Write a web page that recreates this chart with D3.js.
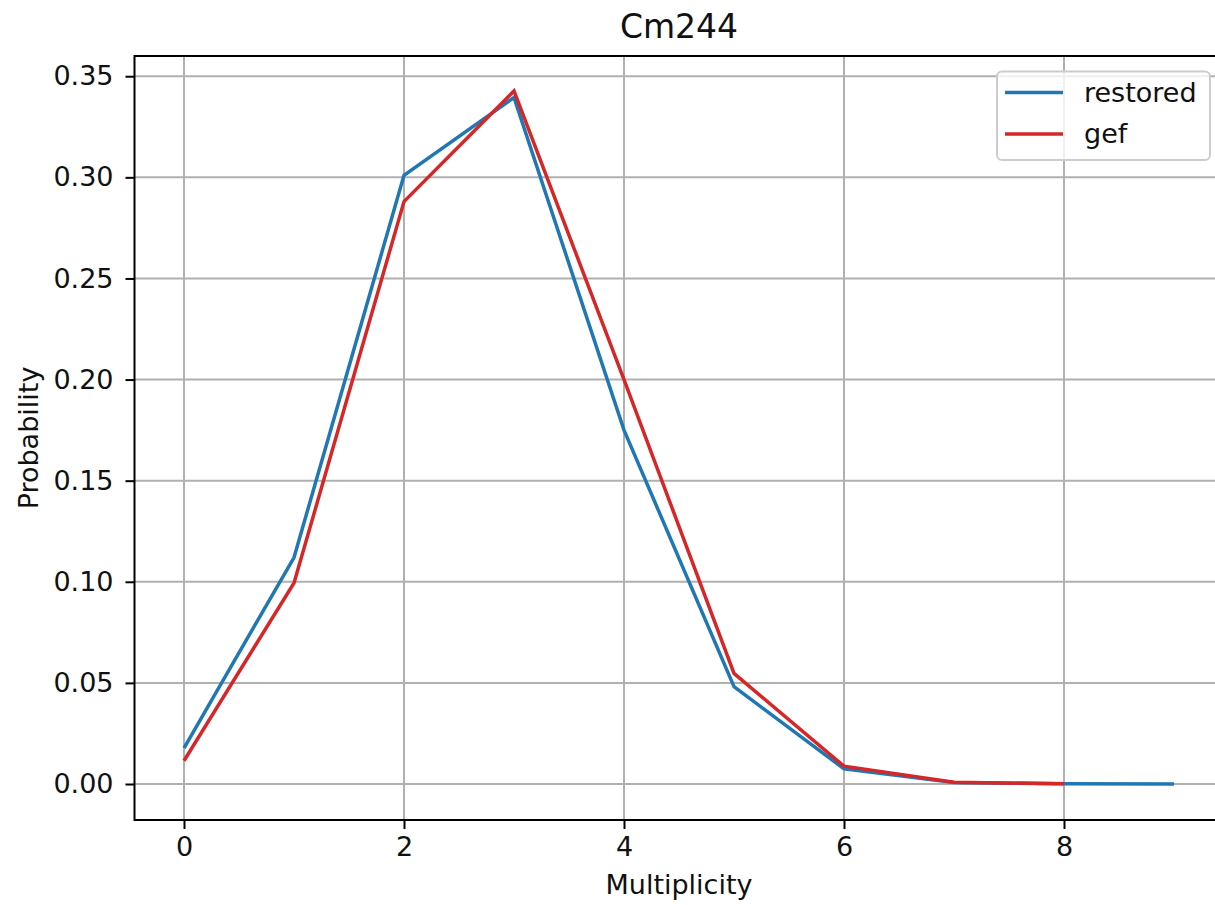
<!DOCTYPE html>
<html>
<head>
<meta charset="utf-8">
<script src="https://cdn.jsdelivr.net/npm/d3@7"></script>
<style>
  body { margin: 0; background: #fff; }
  svg { display: block; font-family: "DejaVu Sans", sans-serif; }
</style>
</head>
<body>
<svg id="chart" width="1215" height="905"></svg>
<script>
const multiplicity = [0, 1, 2, 3, 4, 5, 6, 7, 8, 9];
const restored = [0.0178, 0.112, 0.301, 0.3395, 0.175, 0.0481, 0.0075, 0.0008, 0.0001, 0.0];
const gef = [0.0115, 0.0994, 0.288, 0.3427, 0.200, 0.0547, 0.0088, 0.0009, 0.0001];
const xTicks = [0, 2, 4, 6, 8];
const yTicks = [0.00, 0.05, 0.10, 0.15, 0.20, 0.25, 0.30, 0.35];

const margin = {left: 134.5, right: -8.5, top: 56, bottom: 85};
const width = 1215, height = 905;

const svg = d3.select('#chart');

const xScale = d3.scaleLinear()
    .domain([-0.45, 9.45])
    .range([margin.left, width - margin.right]);

const yScale = d3.scaleLinear()
    .domain([-0.0178, 0.360])
    .range([height - margin.bottom, margin.top]);

// grid
svg.append('g')
    .selectAll('line')
    .data(xTicks)
    .join('line')
        .attr('x1', d => xScale(d))
        .attr('x2', d => xScale(d))
        .attr('y1', margin.top)
        .attr('y2', height - margin.bottom)
        .style('stroke', '#b0b0b0')
        .style('stroke-width', 2);

svg.append('g')
    .selectAll('line')
    .data(yTicks)
    .join('line')
        .attr('x1', margin.left)
        .attr('x2', width - margin.right)
        .attr('y1', d => yScale(d))
        .attr('y2', d => yScale(d))
        .style('stroke', '#b0b0b0')
        .style('stroke-width', 2);

// lines
const line = d3.line()
    .x((d, i) => xScale(multiplicity[i]))
    .y(d => yScale(d));

svg.append('path')
    .datum(restored)
    .attr('d', line)
    .style('fill', 'none')
    .style('stroke', '#1f77b4')
    .style('stroke-width', 3.5);

svg.append('path')
    .datum(gef)
    .attr('d', line)
    .style('fill', 'none')
    .style('stroke', '#d62728')
    .style('stroke-width', 3.5);

// axes
const xAxis = svg.append('g')
    .attr('transform', `translate(0, ${height - margin.bottom})`)
    .call(d3.axisBottom(xScale).tickValues(xTicks).tickSize(9).tickPadding(8).tickFormat(d3.format('d')));

const yAxis = svg.append('g')
    .attr('transform', `translate(${margin.left}, 0)`)
    .call(d3.axisLeft(yScale).tickValues(yTicks).tickSize(9).tickPadding(12).tickFormat(d3.format('.2f')));

[xAxis, yAxis].forEach(ax => {
    ax.select('.domain').remove();
    ax.selectAll('.tick line').style('stroke', '#000').style('stroke-width', 2);
    ax.selectAll('.tick text')
        .style('font-size', '27px')
        .style('fill', '#111')
        .style('font-family', '"DejaVu Sans", sans-serif');
});

// spines
svg.append('rect')
    .attr('x', margin.left)
    .attr('y', margin.top)
    .attr('width', width - margin.right - margin.left)
    .attr('height', height - margin.bottom - margin.top)
    .style('fill', 'none')
    .style('stroke', '#000')
    .style('stroke-width', 2);

// title & labels
svg.append('text')
    .attr('x', (xScale(-0.45) + xScale(9.45)) / 2)
    .attr('y', 38)
    .attr('text-anchor', 'middle')
    .style('font-size', '33px')
    .style('fill', '#111')
    .text('Cm244');

svg.append('text')
    .attr('x', (xScale(-0.45) + xScale(9.45)) / 2)
    .attr('y', 894)
    .attr('text-anchor', 'middle')
    .style('font-size', '27px')
    .style('fill', '#111')
    .text('Multiplicity');

svg.append('text')
    .attr('transform', `translate(38, ${(margin.top + height - margin.bottom) / 2}) rotate(-90)`)
    .attr('text-anchor', 'middle')
    .style('font-size', '27px')
    .style('fill', '#111')
    .text('Probability');

// legend
const legendItems = [
    {name: 'restored', color: '#1f77b4'},
    {name: 'gef', color: '#d62728'}
];

const legend = svg.append('g').attr('transform', 'translate(997, 71.5)');

legend.append('rect')
    .attr('width', 213)
    .attr('height', 88.5)
    .attr('rx', 5)
    .attr('ry', 5)
    .style('fill', '#fff')
    .style('fill-opacity', 0.8)
    .style('stroke', '#cccccc')
    .style('stroke-width', 2);

const items = legend.selectAll('.legendItem')
    .data(legendItems)
    .join('g')
        .classed('legendItem', true)
        .attr('transform', (d, i) => `translate(0, ${21 + i * 41.5})`);

items.append('line')
    .attr('x1', 8)
    .attr('x2', 66)
    .style('stroke', d => d.color)
    .style('stroke-width', 3.5);

items.append('text')
    .attr('x', 87)
    .attr('dy', '0.35em')
    .style('font-size', '27px')
    .style('fill', '#111')
    .text(d => d.name);
</script>
</body>
</html>
